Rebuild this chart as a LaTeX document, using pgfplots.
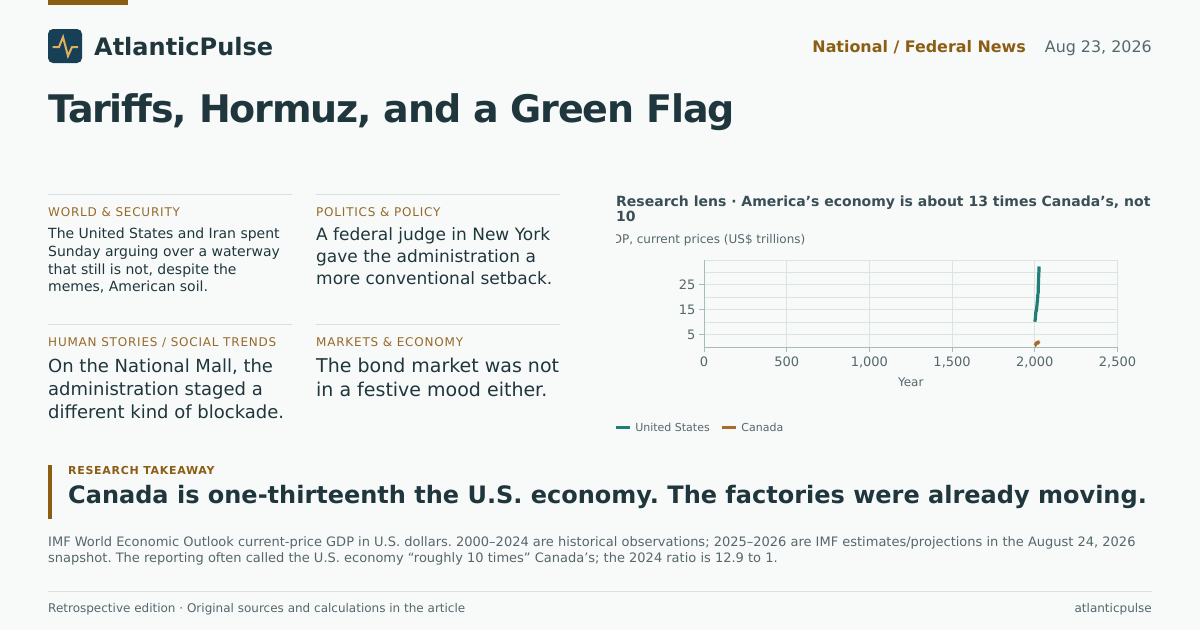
\documentclass[border=0pt]{standalone}
\usepackage{pgfplots}
\pgfplotsset{compat=1.18}
\usepackage{fontspec}
\setmainfont{DejaVu Sans}
\frenchspacing
\definecolor{bg}{HTML}{F8FAF9}
\definecolor{ink}{HTML}{1F363D}
\definecolor{gold}{HTML}{8B5E14}
\definecolor{label}{HTML}{956A2A}
\definecolor{grayt}{HTML}{55676C}
\definecolor{slate}{HTML}{3A4F55}
\definecolor{rule}{HTML}{D9E0DF}
\definecolor{gridc}{HTML}{DCE4E2}
\definecolor{axisc}{HTML}{A9BDB8}
\definecolor{teal}{HTML}{1F7F76}
\definecolor{canada}{HTML}{A66E2A}
\definecolor{logo}{HTML}{173F56}
\definecolor{pulse}{HTML}{E0B060}
\newcommand{\fs}[1]{\fontsize{#1pt}{#1pt}\selectfont}
% x, baseline y, anchor, size, colour, text
\newcommand{\T}[6]{\node[anchor=base #3,inner sep=0pt,text=#5,font=\fs{#4}] at (#1,#2) {#6};}
\pgfplotstableread{
year us ca
2000 10.25 0.74
2001 10.58 0.74
2002 10.94 0.76
2003 11.46 0.89
2004 12.21 1.02
2005 13.04 1.17
2006 13.82 1.32
2007 14.47 1.47
2008 14.77 1.55
2009 14.48 1.37
2010 15.05 1.62
2011 15.60 1.79
2012 16.25 1.83
2013 16.88 1.85
2014 17.61 1.81
2015 18.30 1.56
2016 18.80 1.53
2017 19.60 1.65
2018 20.66 1.73
2019 21.54 1.74
2020 21.35 1.65
2021 23.68 2.00
2022 26.00 2.19
2023 27.72 2.14
2024 29.18 2.24
2025 30.60 2.30
2026 32.40 2.40
}\gdp
\begin{document}
\begin{tikzpicture}
\begin{scope}[x=1pt,y=-1pt]
\fill[bg] (0,0) rectangle (1200,630);
\fill[gold] (48,0) rectangle (128,5);
\fill[logo,rounded corners=5pt] (48,29) rectangle (82,63);
\draw[pulse,line width=2pt,line join=miter] (52.5,47) -- (59,47) -- (63,37) -- (68,56) -- (72,47) -- (78,47);
\T{94}{55}{west}{24}{ink}{\bfseries AtlanticPulse}
\T{1026}{52}{east}{15.9}{gold}{\bfseries National / Federal News}
\T{1152}{52}{east}{15.9}{grayt}{Aug 23, 2026}
\T{48}{122.7}{west}{38}{ink}{\bfseries\addfontfeature{LetterSpace=-3.2}Tariffs, Hormuz, and a Green Flag}
% briefs
\foreach \x in {48,316}{\foreach \y in {194.5,324.5}{\draw[rule] (\x,\y) -- ++(244,0);}}
\T{48}{216}{west}{12}{label}{\addfontfeature{LetterSpace=6.6}WORLD \& SECURITY}
\T{48}{238}{west}{14}{ink}{The United States and Iran spent}
\T{48}{256}{west}{14}{ink}{Sunday arguing over a waterway}
\T{48}{274}{west}{14}{ink}{that still is not, despite the}
\T{48}{291}{west}{14}{ink}{memes, American soil.}
\T{316}{216}{west}{12}{label}{\addfontfeature{LetterSpace=6.6}POLITICS \& POLICY}
\T{316}{240.4}{west}{17}{ink}{A federal judge in New York}
\T{316}{262.4}{west}{17}{ink}{gave the administration a}
\T{316}{284}{west}{17}{ink}{more conventional setback.}
\T{48}{346}{west}{12}{label}{\addfontfeature{LetterSpace=6.6}HUMAN STORIES / SOCIAL TRENDS}
\T{48}{372}{west}{18}{ink}{On the National Mall, the}
\T{48}{395}{west}{18}{ink}{administration staged a}
\T{48}{418}{west}{18}{ink}{different kind of blockade.}
\T{316}{346}{west}{12}{label}{\addfontfeature{LetterSpace=6.6}MARKETS \& ECONOMY}
\T{316}{372.5}{west}{19}{ink}{The bond market was not}
\T{316}{396.5}{west}{19}{ink}{in a festive mood either.}
% chart heading
\T{616}{206}{west}{14}{slate}{\bfseries Research lens · America’s economy is about 13 times Canada’s, not}
\T{616}{221}{west}{14}{slate}{\bfseries 10}
\begin{scope}
\clip (616,228) rectangle (900,250);
\T{805.5}{243}{east}{12}{grayt}{GDP, current prices (US\$ trillions)}
\end{scope}
% takeaway
\fill[gold] (48,465) rectangle (52,519);
\T{68}{474}{west}{11}{gold}{\bfseries\addfontfeature{LetterSpace=6.4}RESEARCH TAKEAWAY}
\T{68}{503}{west}{24}{ink}{\bfseries Canada is one-thirteenth the U.S. economy. The factories were already moving.}
\T{48}{546}{west}{13}{grayt}{IMF World Economic Outlook current-price GDP in U.S. dollars. 2000–2024 are historical observations; 2025–2026 are IMF estimates/projections in the August 24, 2026}
\T{48}{562}{west}{13}{grayt}{snapshot. The reporting often called the U.S. economy “roughly 10 times” Canada’s; the 2024 ratio is 12.9 to 1.}
\draw[rule] (48,591.5) -- (1152,591.5);
\T{48}{612}{west}{12}{grayt}{Retrospective edition · Original sources and calculations in the article}
\T{1152}{612}{east}{12}{grayt}{atlanticpulse}
\end{scope}
\begin{axis}[
  at={(704pt,-347.3pt)},anchor=origin,
  scale only axis,width=413.5pt,height=87.3pt,
  xmin=0,xmax=2500,ymin=0,ymax=35,
  axis lines=left,axis line style={-,draw=axisc,line width=1pt},
  xtick={0,500,1000,1500,2000,2500},
  ytick={5,15,25},minor ytick={10,20,30,35},
  grid=both,
  major grid style={draw=gridc,line width=1pt},
  minor grid style={draw=gridc,line width=1pt},
  tick style={draw=axisc,line width=1pt},
  major tick length=5pt,minor tick length=0pt,
  tick align=outside,
  /pgf/number format/assume math mode=true,
  /pgf/number format/.cd,1000 sep={,},/tikz/.cd,
  ticklabel style={font=\fs{13},text=grayt},
  xticklabel style={yshift=-1pt},
  xlabel={Year},xlabel style={font=\fs{12},text=grayt,yshift=-3pt},
  clip=false,
  legend columns=2,
  legend style={at={(-90pt,-80.5pt)},anchor=west,draw=none,fill=none,inner sep=0pt,font=\fs{11},text=grayt,
    /tikz/every even column/.append style={column sep=8.5pt}},
  legend image code/.code={\draw[#1,line width=3pt] (0pt,0pt) -- (14pt,0pt);\path (16pt,0pt);},
  every axis legend/.append style={legend cell align=left},
]
\addplot[teal,line width=3.2pt,line join=round,no markers] table[x=year,y=us] {\gdp};
\addlegendentry{United States}
\addplot[canada,line width=3.2pt,line join=round,no markers] table[x=year,y=ca] {\gdp};
\addlegendentry{Canada}
\end{axis}
\end{tikzpicture}
\end{document}
